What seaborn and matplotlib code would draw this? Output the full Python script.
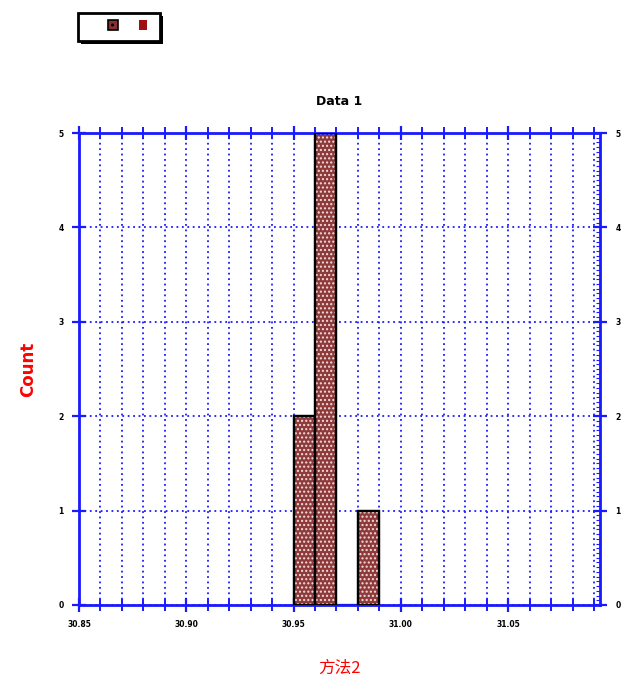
import numpy as np
import pandas as pd
import matplotlib
matplotlib.use("Agg")
import matplotlib.pyplot as plt
import matplotlib.patches as mpatches
import seaborn as sns

# values (bin width 0.01)
values = [30.955, 30.955,
          30.965, 30.965, 30.965, 30.965, 30.965,
          30.985]
bin_edges = [30.95, 30.96, 30.97, 30.98, 30.99]
x_ticks = [30.85, 30.90, 30.95, 31.00, 31.05]
x_tick_labels = ["30.85", "30.90", "30.95", "31.00", "31.05"]
y_ticks = [0, 1, 2, 3, 4, 5]
title = "Data 1"
x_label = "方法2"
y_label = "Count"

sns.set_style("white")
plt.rcParams['font.family'] = ['DejaVu Sans', 'Noto Sans CJK SC']

df = pd.DataFrame({"value": values})

fig = plt.figure(figsize=(6.25, 6.87), dpi=100)
ax = fig.add_axes([0.1264, 0.1194, 0.8336, 0.687])

sns.histplot(data=df, x="value", bins=bin_edges, ax=ax,
             color="#8e3a3a", edgecolor="black", linewidth=1.6, alpha=1)

# dotted pattern over the bars
for p in list(ax.patches):
    if p.get_height() <= 0:
        continue
    ax.add_patch(mpatches.Rectangle(p.get_xy(), p.get_width(), p.get_height(),
                                    facecolor="none", edgecolor="#f3dede",
                                    hatch="....", linewidth=0, zorder=3))
    ax.add_patch(mpatches.Rectangle(p.get_xy(), p.get_width(), p.get_height(),
                                    facecolor="none", edgecolor="black",
                                    linewidth=1.6, zorder=4))

ax.set_xlim(30.85, 31.0928)
ax.set_ylim(0, 5)

blue = "#1a1aff"
ax.set_xticks(np.arange(30.85, 31.0929, 0.01), minor=True)
ax.set_xticks(x_ticks)
ax.set_xticklabels(x_tick_labels)
ax.set_yticks(y_ticks)
ax.set_yticks(np.arange(0, 5.001, 0.05), minor=True)

dots = (0, (1, 2))
ax.grid(True, which="minor", axis="x", color=blue, linestyle=dots, linewidth=1.3)
ax.grid(True, which="major", axis="x", color=blue, linestyle=dots, linewidth=1.3)
ax.grid(True, which="major", axis="y", color=blue, linestyle=dots, linewidth=1.3)
ax.set_axisbelow(True)

for s in ax.spines.values():
    s.set_color(blue)
    s.set_linewidth(2)
    s.set_visible(True)

ax.tick_params(axis="x", which="major", direction="inout", length=10, width=1.6,
               color=blue, top=True, bottom=True, labelsize=5.5, pad=6,
               labelcolor="black")
ax.tick_params(axis="x", which="minor", direction="inout", length=8, width=1.4,
               color=blue, top=True, bottom=True)
ax.tick_params(axis="y", which="major", direction="inout", length=10, width=1.6,
               color=blue, left=True, right=True, labelleft=True, labelright=True,
               labelsize=5.5, pad=6, labelcolor="black")
ax.tick_params(axis="y", which="minor", direction="in", length=3, width=0.8,
               color=blue, left=False, right=True)
for lab in ax.get_xticklabels() + ax.get_yticklabels():
    lab.set_fontweight("bold")

ax.set_title(title, fontsize=9, fontweight="bold", pad=20, color="black")
ax.set_xlabel(x_label, color="red", fontsize=12,
              family=["Noto Sans CJK SC", "DejaVu Sans"], va="center")
ax.xaxis.set_label_coords(0.5, -63 / 472)
ax.set_ylabel(y_label, color="red", fontsize=12, fontweight="bold", va="center")
ax.yaxis.set_label_coords(-51 / 521, 0.5)

# small legend box in the top-left corner
fig.patches.append(mpatches.Rectangle((81 / 625, 1 - 44 / 687), 82 / 625, 28 / 687,
                                      transform=fig.transFigure, facecolor="black",
                                      edgecolor="none", zorder=1))
fig.patches.append(mpatches.Rectangle((78 / 625, 1 - 41 / 687), 82 / 625, 28 / 687,
                                      transform=fig.transFigure, facecolor="white",
                                      edgecolor="black", linewidth=2, zorder=2))
fig.patches.append(mpatches.Rectangle((108 / 625, 1 - 30 / 687), 10 / 625, 10 / 687,
                                      transform=fig.transFigure, facecolor="#8a3030",
                                      edgecolor="black", hatch="..", linewidth=1.2, zorder=3))
fig.patches.append(mpatches.Rectangle((139 / 625, 1 - 30 / 687), 8 / 625, 10 / 687,
                                      transform=fig.transFigure, facecolor="#a01010",
                                      edgecolor="none", zorder=3))

fig.savefig("out.png", dpi=100)
